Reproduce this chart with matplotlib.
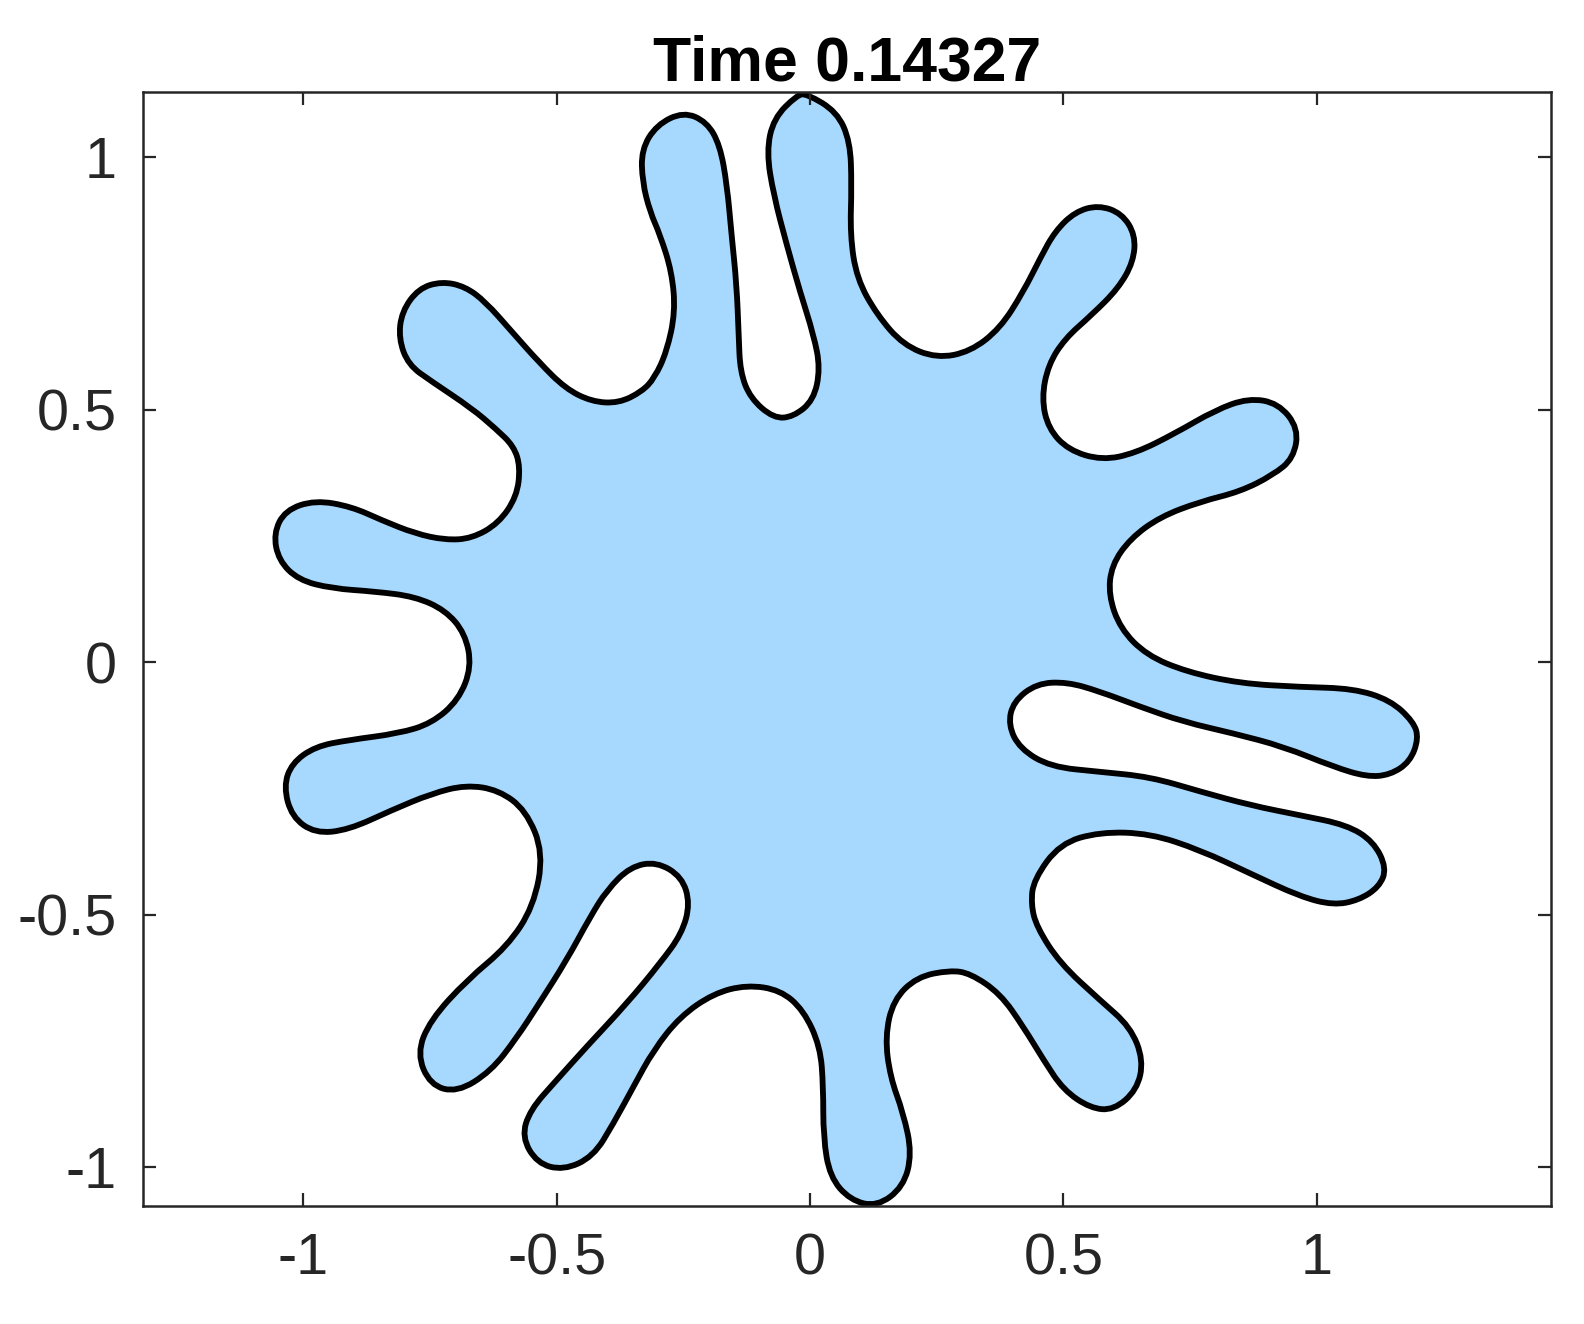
import matplotlib.pyplot as plt
from matplotlib.path import Path
from matplotlib.patches import PathPatch

# boundary of the fingered blob, traced clockwise from the top finger
bx = [-0.007, 0.053, 0.079, 0.082, 0.079, 0.092, 0.132, 0.184, 0.250, 0.316,
      0.375, 0.421, 0.454, 0.483, 0.523, 0.569, 0.615, 0.642, 0.638, 0.608,
      0.556, 0.503, 0.470, 0.457, 0.470, 0.510, 0.576, 0.642, 0.720, 0.799,
      0.865, 0.924, 0.964, 0.954, 0.914, 0.849, 0.770, 0.691, 0.632, 0.595,
      0.589, 0.612, 0.664, 0.743, 0.849, 0.967, 1.072, 1.145, 1.191, 1.201,
      1.184, 1.145, 1.099, 1.033, 0.934, 0.836, 0.737, 0.651, 0.572, 0.507,
      0.447, 0.401, 0.391, 0.414, 0.474, 0.572, 0.671, 0.770, 0.868, 0.967,
      1.059, 1.112, 1.138, 1.123, 1.083, 1.033, 0.967, 0.868, 0.770, 0.671,
      0.572, 0.493, 0.441, 0.436, 0.447, 0.493, 0.572, 0.632, 0.658, 0.645,
      0.599, 0.553, 0.500, 0.461, 0.421, 0.375, 0.316, 0.276, 0.211, 0.164,
      0.148, 0.158, 0.184, 0.201, 0.184, 0.132, 0.079, 0.039, 0.026, 0.026,
      0.020, -0.013, -0.059, -0.125, -0.191, -0.257, -0.309, -0.349, -0.388, -0.428,
      -0.487, -0.539, -0.569, -0.553, -0.500, -0.441, -0.362, -0.296, -0.253, -0.237,
      -0.253, -0.303, -0.355, -0.401, -0.434, -0.480, -0.535, -0.580, -0.630, -0.697,
      -0.750, -0.776, -0.750, -0.677, -0.598, -0.546, -0.526, -0.561, -0.615, -0.679,
      -0.747, -0.826, -0.911, -0.977, -1.023, -1.039, -1.023, -0.977, -0.911, -0.812,
      -0.747, -0.694, -0.668, -0.681, -0.720, -0.780, -0.858, -0.944, -1.010, -1.049,
      -1.059, -1.036, -0.977, -0.905, -0.845, -0.780, -0.720, -0.668, -0.615, -0.579,
      -0.572, -0.585, -0.620, -0.668, -0.747, -0.793, -0.812, -0.806, -0.773, -0.727,
      -0.681, -0.641, -0.589, -0.536, -0.483, -0.431, -0.378, -0.332, -0.307, -0.283,
      -0.266, -0.273, -0.296, -0.316, -0.331, -0.333, -0.303, -0.250, -0.204, -0.178,
      -0.164, -0.155, -0.145, -0.141, -0.138, -0.118, -0.072, -0.033, 0.007, 0.020,
      0.007, -0.020, -0.046, -0.072, -0.086, -0.072, -0.026]
by = [1.126, 1.090, 1.031, 0.945, 0.846, 0.760, 0.688, 0.628, 0.602, 0.615,
      0.661, 0.734, 0.800, 0.853, 0.892, 0.905, 0.889, 0.846, 0.793, 0.740,
      0.688, 0.641, 0.589, 0.523, 0.463, 0.420, 0.400, 0.414, 0.453, 0.499,
      0.523, 0.513, 0.463, 0.404, 0.371, 0.338, 0.318, 0.288, 0.245, 0.192,
      0.133, 0.067, 0.014, -0.019, -0.042, -0.049, -0.052, -0.075, -0.118, -0.151,
      -0.197, -0.223, -0.227, -0.207, -0.167, -0.141, -0.118, -0.088, -0.058, -0.039,
      -0.042, -0.078, -0.124, -0.171, -0.207, -0.217, -0.227, -0.256, -0.283, -0.303,
      -0.322, -0.355, -0.408, -0.445, -0.471, -0.481, -0.464, -0.418, -0.372, -0.339,
      -0.336, -0.359, -0.431, -0.479, -0.524, -0.596, -0.669, -0.722, -0.788, -0.847,
      -0.887, -0.883, -0.847, -0.788, -0.722, -0.656, -0.616, -0.610, -0.623, -0.669,
      -0.742, -0.821, -0.893, -0.973, -1.039, -1.078, -1.065, -1.019, -0.940, -0.841,
      -0.761, -0.689, -0.649, -0.639, -0.656, -0.702, -0.768, -0.841, -0.913, -0.979,
      -1.006, -0.992, -0.940, -0.887, -0.827, -0.761, -0.676, -0.596, -0.537, -0.478,
      -0.425, -0.395, -0.405, -0.451, -0.504, -0.589, -0.676, -0.745, -0.810, -0.852,
      -0.837, -0.775, -0.709, -0.629, -0.563, -0.484, -0.378, -0.293, -0.253, -0.243,
      -0.260, -0.293, -0.332, -0.339, -0.306, -0.246, -0.200, -0.167, -0.154, -0.141,
      -0.121, -0.075, -0.009, 0.057, 0.103, 0.130, 0.140, 0.146, 0.163, 0.202,
      0.255, 0.301, 0.321, 0.308, 0.281, 0.255, 0.242, 0.245, 0.275, 0.328,
      0.387, 0.428, 0.462, 0.503, 0.556, 0.589, 0.641, 0.694, 0.740, 0.754,
      0.744, 0.714, 0.655, 0.595, 0.542, 0.516, 0.513, 0.536, 0.563, 0.615,
      0.694, 0.773, 0.846, 0.892, 0.951, 1.015, 1.064, 1.090, 1.070, 1.024,
      0.945, 0.846, 0.747, 0.648, 0.575, 0.523, 0.483, 0.486, 0.519, 0.582,
      0.648, 0.734, 0.826, 0.925, 1.011, 1.077, 1.123]

ticks = [-1, -0.5, 0, 0.5, 1]
tick_labels = ['-1', '-0.5', '0', '0.5', '1']

fig = plt.figure(figsize=(15.84, 13.24), dpi=100)
ax = fig.add_axes([0.0905, 0.0891, 0.8887, 0.8416])

# smooth closed outline: traced points act as control points of
# quadratic bezier segments joined at the middle of each pair
n = len(bx)
pts = list(zip(bx, by))
mids = [((pts[i][0] + pts[(i + 1) % n][0]) / 2, (pts[i][1] + pts[(i + 1) % n][1]) / 2)
        for i in range(n)]
verts = [mids[-1]]
codes = [Path.MOVETO]
for i in range(n):
    verts += [pts[i], mids[i]]
    codes += [Path.CURVE3, Path.CURVE3]
verts.append(mids[-1])
codes.append(Path.CLOSEPOLY)

blob = PathPatch(Path(verts, codes), facecolor='#a7d8fe', edgecolor='black',
                 linewidth=4.2, joinstyle='round')
ax.add_patch(blob)

ax.set_xlim(-1.316, 1.4624)
ax.set_ylim(-1.0768, 1.1297)

ax.set_xticks(ticks)
ax.set_xticklabels(tick_labels)
ax.set_yticks(ticks)
ax.set_yticklabels(tick_labels)
for lab in ax.get_xticklabels() + ax.get_yticklabels():
    lab.set_fontfamily('Liberation Sans')
ax.tick_params(direction='in', length=9.5, width=1.6, colors='#262626',
               labelsize=41.5, pad=19, top=True, right=True)
for sp in ax.spines.values():
    sp.set_color('#262626')
    sp.set_linewidth(1.8)

ax.set_title('Time 0.14327', fontsize=45, fontweight='bold',
             fontfamily='Liberation Sans', color='black', pad=8)

plt.savefig('out.png', dpi=100)
